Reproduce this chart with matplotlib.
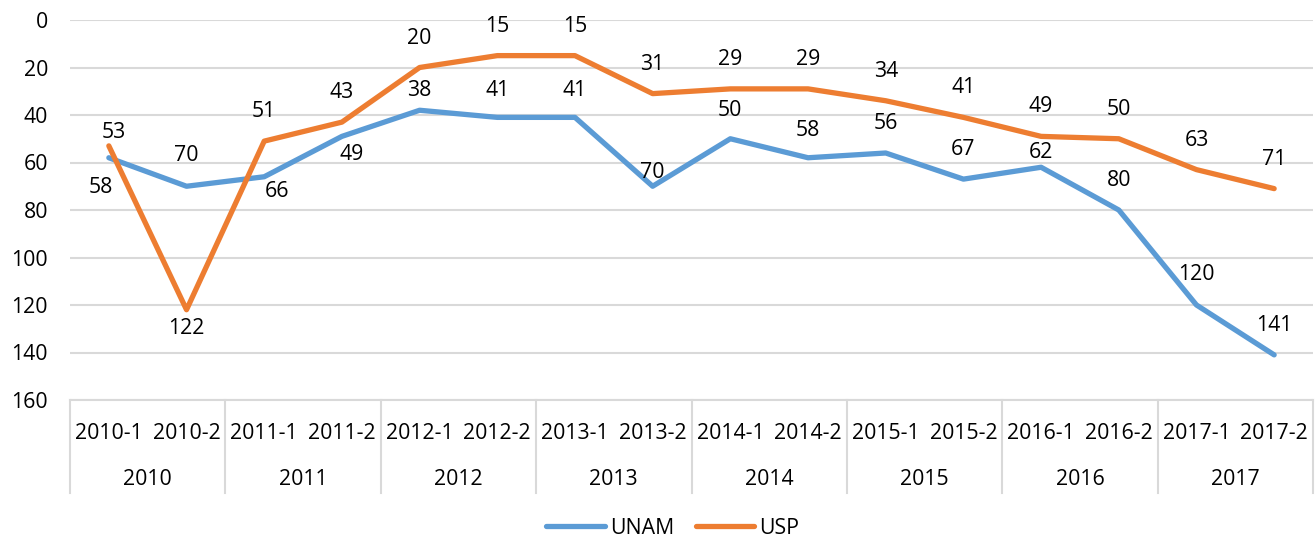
import matplotlib
matplotlib.use("Agg")
import matplotlib.pyplot as plt
import matplotlib.transforms as mtransforms
from matplotlib.lines import Line2D

# data (y axis is a rank, so it is inverted)
periods = ["2010-1", "2010-2", "2011-1", "2011-2", "2012-1", "2012-2", "2013-1", "2013-2",
           "2014-1", "2014-2", "2015-1", "2015-2", "2016-1", "2016-2", "2017-1", "2017-2"]
years = ["2010", "2011", "2012", "2013", "2014", "2015", "2016", "2017"]
unam = [58, 70, 66, 49, 38, 41, 41, 70, 50, 58, 56, 67, 62, 80, 120, 141]
usp = [53, 122, 51, 43, 20, 15, 15, 31, 29, 29, 34, 41, 49, 50, 63, 71]

# label offsets in pixels (dx, dy), dy positive = downwards
unam_offsets = [(-8, 27), (0, -33), (13, 12), (10, 16), (0, -22), (0, -29), (0, -29), (0, -16),
                (0, -31), (0, -30), (0, -32), (0, -32), (0, -17), (0, -32), (0, -33), (0, -32)]
usp_offsets = [(5, -16), (0, 16)] + [(0, -32)] * 14

BLUE = "#5B9BD5"
ORANGE = "#ED7D31"
GRID = "#D9D9D9"
FONT = "Open Sans"
FS = 15.3

plt.rcParams['font.family'] = [FONT, 'DejaVu Sans']

W, H = 1315, 539
fig = plt.figure(figsize=(W / 100, H / 100), dpi=100)
left, right, top, bottom = 70, 1313, 20, 400
ax = fig.add_axes([left / W, 1 - bottom / H, (right - left) / W, (bottom - top) / H])

x = list(range(len(periods)))
for vals, col, name in [(unam, BLUE, "UNAM"), (usp, ORANGE, "USP")]:
    ax.plot(x, vals, color=col, lw=3.8, solid_joinstyle="round",
            solid_capstyle="round", label=name, zorder=3)

px = 0.72  # points per pixel at 100 dpi
for vals, offs in [(unam, unam_offsets), (usp, usp_offsets)]:
    for i, v in enumerate(vals):
        dx, dy = offs[i]
        ax.annotate(str(v), (i, v), xytext=(dx * px, -dy * px), textcoords="offset points",
                    ha="center", va="center_baseline", fontsize=FS, color="black", zorder=4)

ax.set_xlim(-0.5, len(periods) - 0.5)
ax.set_ylim(160, 0)
ax.set_yticks(range(0, 161, 20))
ax.tick_params(axis="y", length=0, pad=22 * px, labelsize=FS)
ax.tick_params(axis="x", length=0, labelbottom=False)
for t in ax.get_yticklabels():
    t.set_fontfamily(FONT)
ax.grid(axis="y", color=GRID, lw=1.5)
for s in ["top", "right", "left"]:
    ax.spines[s].set_visible(False)
ax.spines["bottom"].set_color(GRID)
ax.spines["bottom"].set_linewidth(1.5)

# two-level category axis
trans = mtransforms.blended_transform_factory(ax.transData, ax.transAxes)
h = bottom - top
row1 = (bottom - 431) / h
row2 = (bottom - 477) / h
sep_end = (bottom - 493) / h
for i, p in enumerate(periods):
    ax.text(i, row1, p, transform=trans, ha="center", va="center_baseline", fontsize=FS)
for j, yr in enumerate(years):
    ax.text(2 * j + 0.5, row2, yr, transform=trans, ha="center", va="center_baseline", fontsize=FS)
for k in range(len(years) + 1):
    ax.add_line(Line2D([2 * k - 0.5, 2 * k - 0.5], [0, sep_end], transform=trans,
                       color=GRID, lw=1.5, clip_on=False))

fig.legend(loc="center", bbox_to_anchor=(673 / W, 1 - 528 / H), ncol=2, frameon=False,
           fontsize=FS, handlelength=2.75, handletextpad=0.25, columnspacing=1.0,
           borderaxespad=0)

fig.savefig("out.png", dpi=100)
